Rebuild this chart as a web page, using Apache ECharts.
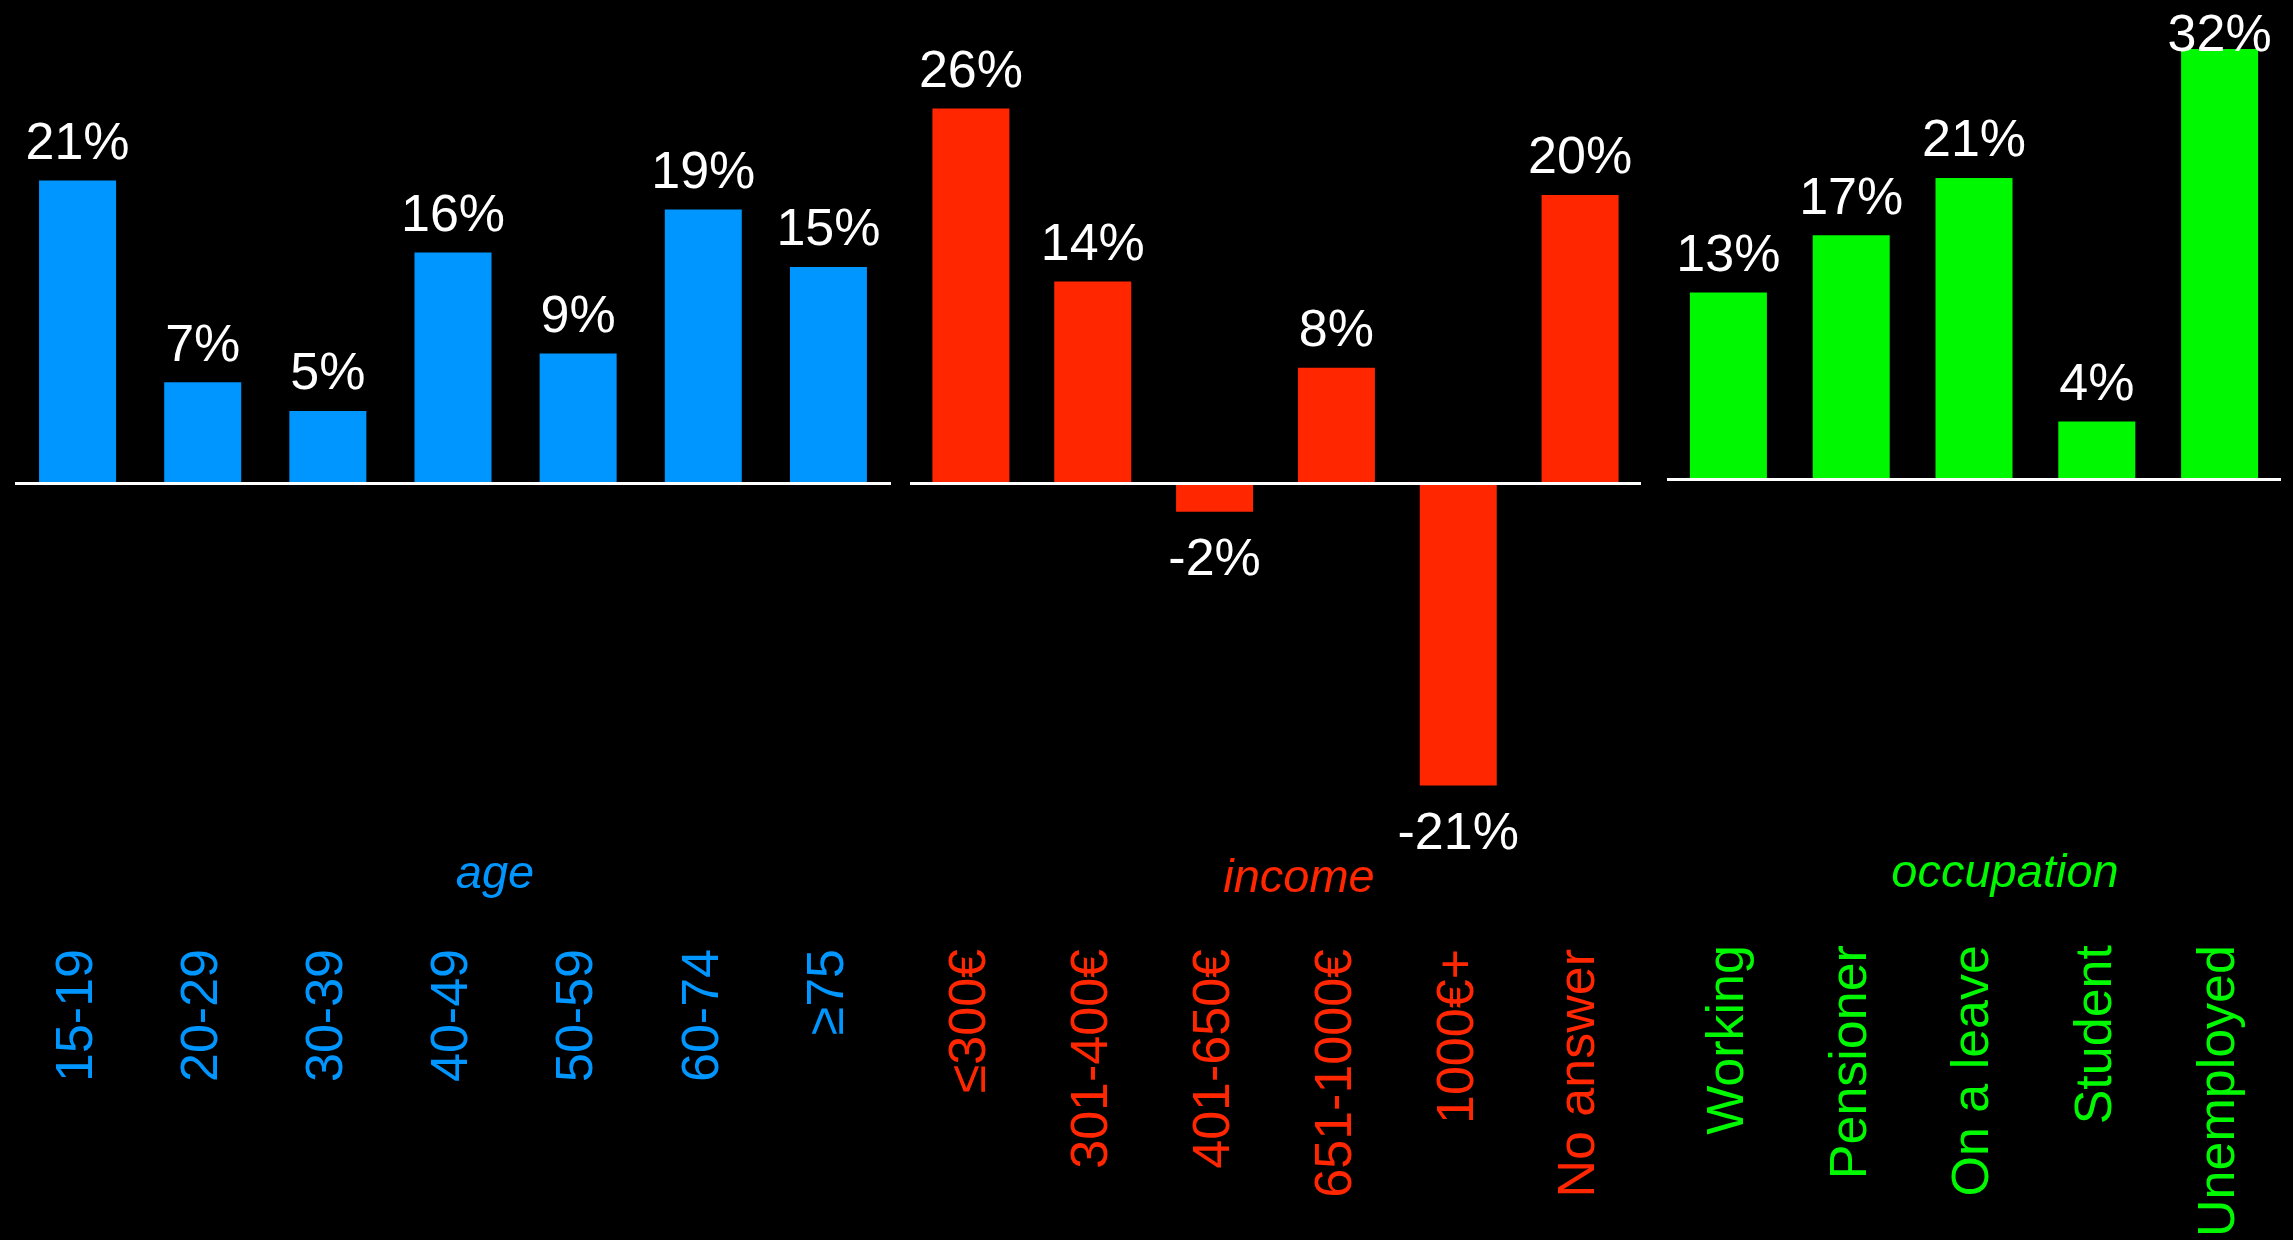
<!DOCTYPE html>
<html>
<head>
<meta charset="utf-8">
<script src="https://cdn.jsdelivr.net/npm/echarts@6/dist/echarts.min.js"></script>
<style>
  html, body { margin: 0; padding: 0; background: #000; }
  #chart { width: 2293px; height: 1240px; }
</style>
</head>
<body>
<div id="chart"></div>
<script>
// ---- data ----
const ageCategories = ['15-19', '20-29', '30-39', '40-49', '50-59', '60-74', '≥75'];
const ageValues = [21, 7, 5, 16, 9, 19, 15];

const incomeCategories = ['≤300€', '301-400€', '401-650€', '651-1000€', '1000€+', 'No answer'];
const incomeValues = [26, 14, -2, 8, -21, 20];

const occupationCategories = ['Working', 'Pensioner', 'On a leave', 'Student', 'Unemployed'];
const occupationValues = [13, 17, 21, 4, 32];

const groupNames = ['age', 'income', 'occupation'];

// ---- styling ----
const FONT = '"Liberation Sans", Arial, Helvetica, sans-serif';
const BLUE = '#0096FF', RED = '#FF2600', GREEN = '#00F900';
const Y_MIN = -25, Y_MAX = 30;

function items(values) {
  return values.map(v => ({
    value: v,
    label: { distance: v < 0 ? 23 : (v > Y_MAX ? -14 : 10) }
  }));
}

const panels = [
  { cats: ageCategories, vals: ageValues, color: BLUE, grid: { left: 15, width: 876, top: 51, bottom: 397 }, margin: 106 },
  { cats: incomeCategories, vals: incomeValues, color: RED, grid: { left: 910, width: 731, top: 51, bottom: 397 }, margin: 106 },
  { cats: occupationCategories, vals: occupationValues, color: GREEN, grid: { left: 1667, width: 614, top: 49, bottom: 399 }, margin: 108 }
];

const titlePos = [
  { x: 495, y: 875 },
  { x: 1299, y: 879 },
  { x: 2005, y: 874 }
];

const option = {
  backgroundColor: '#000',
  animation: false,
  grid: panels.map(p => p.grid),
  xAxis: panels.map((p, i) => ({
    type: 'category',
    gridIndex: i,
    data: p.cats,
    position: 'bottom',
    axisLine: { show: false, onZero: false },
    axisTick: { show: false },
    splitLine: { show: false },
    axisLabel: {
      interval: 0,
      rotate: 90,
      margin: p.margin,
      padding: [14, 0, 0, 0],
      color: p.color,
      fontSize: 52,
      fontFamily: FONT
    }
  })),
  yAxis: panels.map((p, i) => ({
    type: 'value',
    gridIndex: i,
    min: Y_MIN,
    max: Y_MAX,
    show: false,
    splitLine: { show: false }
  })),
  series: panels.map((p, i) => ({
    type: 'bar',
    xAxisIndex: i,
    yAxisIndex: i,
    data: items(p.vals),
    barWidth: 77,
    clip: true,
    itemStyle: { color: p.color },
    label: {
      show: true,
      position: 'outside',
      color: '#ffffff',
      fontSize: 52,
      fontFamily: FONT,
      formatter: d => d.value + '%'
    },
    markLine: {
      silent: true,
      symbol: 'none',
      label: { show: false },
      lineStyle: { color: '#ffffff', width: 3, type: 'solid' },
      emphasis: { disabled: true },
      data: [{ yAxis: 0 }]
    }
  })),
  graphic: groupNames.map((name, i) => ({
    type: 'text',
    x: titlePos[i].x,
    y: titlePos[i].y,
    silent: true,
    style: {
      text: name,
      fill: panels[i].color,
      font: 'italic 47px ' + FONT,
      textAlign: 'center',
      textVerticalAlign: 'middle'
    }
  }))
};

const chart = echarts.init(document.getElementById('chart'), null, { renderer: 'canvas' });
chart.setOption(option);
</script>
</body>
</html>
